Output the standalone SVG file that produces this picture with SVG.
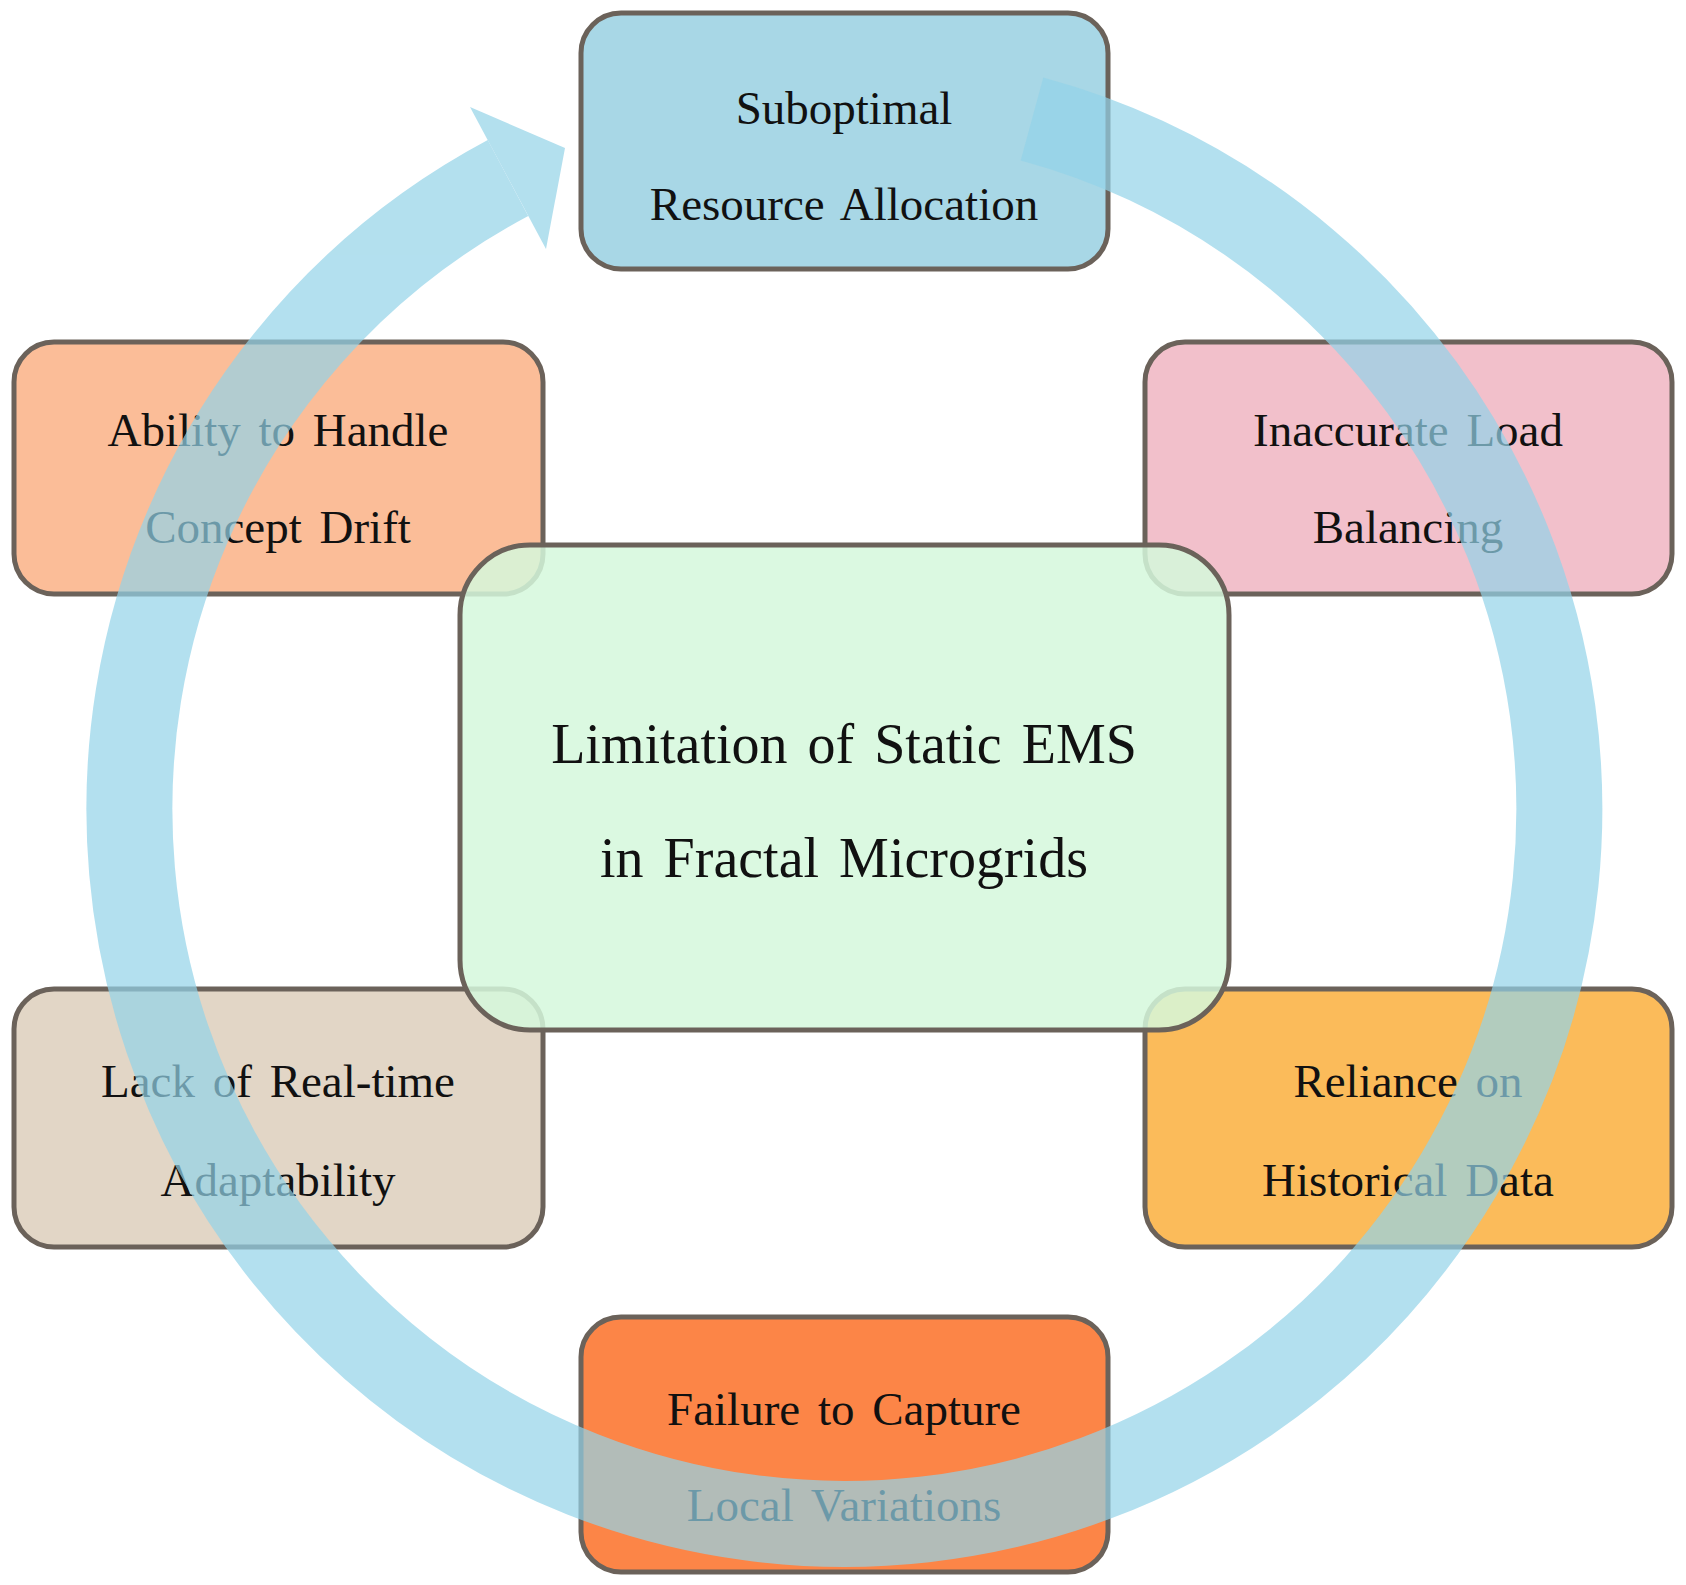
<svg xmlns="http://www.w3.org/2000/svg" width="1686" height="1585" viewBox="0 0 1686 1585">
<style>
.b{stroke:#6b625a;stroke-width:5}
text{font-family:"Liberation Serif","Times New Roman",serif;font-size:47px;fill:#111;text-anchor:middle;dominant-baseline:central;word-spacing:6px}
.c{font-size:56px}
</style>
<rect width="1686" height="1585" fill="#fff"/>
<g id="n-top"><rect class="b" x="581" y="13" width="527" height="256" rx="40" fill="#a8d7e6"/><text x="844" y="108">Suboptimal</text><text x="844" y="204">Resource Allocation</text></g>
<g id="n-load"><rect class="b" x="1145" y="342" width="527" height="252" rx="40" fill="#f2c0cb"/><text x="1408" y="430">Inaccurate Load</text><text x="1408" y="527">Balancing</text></g>
<g id="n-drift"><rect class="b" x="14" y="342" width="529" height="252" rx="40" fill="#fbbd98"/><text x="278" y="430">Ability to Handle</text><text x="278" y="527">Concept Drift</text></g>
<g id="n-rt"><rect class="b" x="14" y="989" width="529" height="258" rx="40" fill="#e2d6c6"/><text x="278" y="1081">Lack of Real-time</text><text x="278" y="1180">Adaptability</text></g>
<g id="n-hist"><rect class="b" x="1145" y="989" width="527" height="258" rx="40" fill="#fbbb5a"/><text x="1408" y="1081">Reliance on</text><text x="1408" y="1180">Historical Data</text></g>
<g id="n-local"><rect class="b" x="581" y="1317" width="527" height="255" rx="40" fill="#fc8547"/><text x="844" y="1409">Failure to Capture</text><text x="844" y="1505">Local Variations</text></g>
<g id="connectors" opacity="0.7" fill="#93d3e8">
<path d="M1032 119 A715 715 0 1 1 508 178" fill="none" stroke="#93d3e8" stroke-width="86"/>
<polygon points="470,107 546,249 565,148"/>
</g>
<g id="n-center"><rect class="b" x="460" y="545" width="769" height="485" rx="70" fill="#d5f8dc" fill-opacity="0.85"/><text class="c" x="844" y="744">Limitation of Static EMS</text><text class="c" x="844" y="858">in Fractal Microgrids</text></g>
</svg>
